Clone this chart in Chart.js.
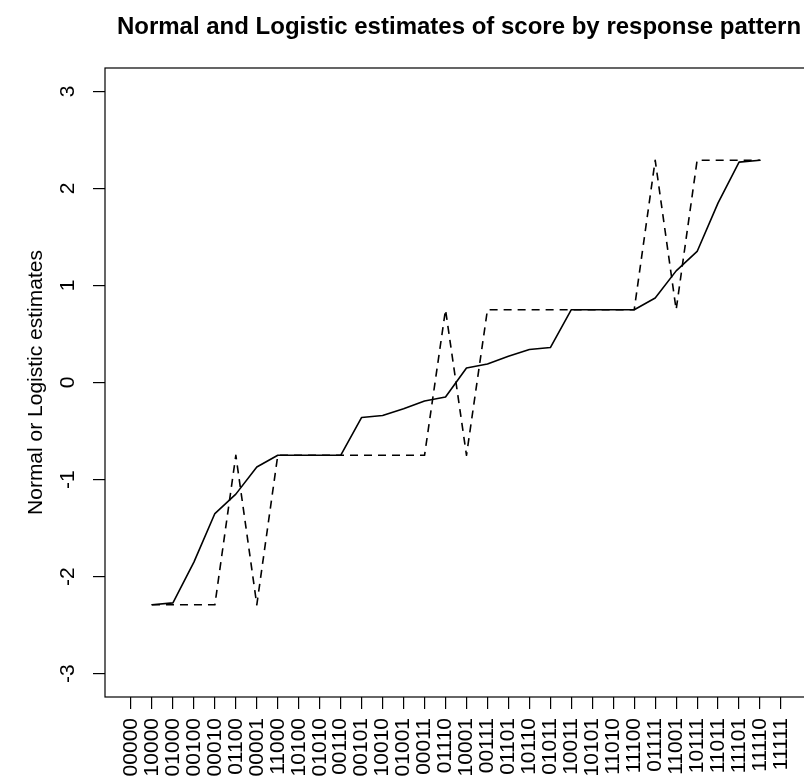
<!DOCTYPE html>
<html>
<head>
<meta charset="utf-8">
<title>Normal and Logistic estimates</title>
<script src="https://cdn.jsdelivr.net/npm/chart.js@4.4.0/dist/chart.umd.min.js"></script>
<style>
  html, body { margin: 0; padding: 0; background: #fff; overflow: hidden; }
  #wrap { width: 804px; height: 780px; overflow: hidden; position: relative; }
  #myChart { position: absolute; left: 0; top: 0; }
</style>
</head>
<body>
<div id="wrap"><canvas id="myChart" width="807" height="780"></canvas></div>
<script>
// response patterns, ordered by estimated score
var patterns = ['00000', '10000', '01000', '00100', '00010', '01100', '00001', '11000',
  '10100', '01010', '00110', '00101', '10010', '01001', '00011', '01110',
  '10001', '00111', '01101', '10110', '01011', '10011', '10101', '11010',
  '11100', '01111', '11001', '10111', '11011', '11101', '11110', '11111'];

// all-wrong and all-right patterns have no finite estimate
var normalEst = [null, -2.29, -2.27, -1.85, -1.35, -1.15, -0.87, -0.75,
  -0.75, -0.75, -0.75, -0.36, -0.34, -0.27, -0.19, -0.15,
  0.15, 0.19, 0.27, 0.34, 0.36, 0.75, 0.75, 0.75,
  0.75, 0.87, 1.15, 1.35, 1.85, 2.27, 2.29, null];

var logisticEst = [null, -2.29, -2.29, -2.29, -2.29, -0.75, -2.29, -0.75,
  -0.75, -0.75, -0.75, -0.75, -0.75, -0.75, -0.75, 0.75,
  -0.75, 0.75, 0.75, 0.75, 0.75, 0.75, 0.75, 0.75,
  0.75, 2.29, 0.75, 2.29, 2.29, 2.29, 2.29, null];

var yTicks = [-3, -2, -1, 0, 1, 2, 3];

var titleText = 'Normal and Logistic estimates of score by response pattern';
var yTitle = 'Normal or Logistic estimates';
var fontFamily = '"Liberation Sans", Arial, Helvetica, sans-serif';
var axisFontSize = 21;

function toPoints(arr) {
  return arr.map(function (v, i) { return { x: i, y: v }; });
}

// box round the plot, rotated y labels and the main title
var framePlugin = {
  id: 'frame',
  afterDraw: function (chart) {
    var ctx = chart.ctx;
    var area = chart.chartArea;
    var yScale = chart.scales.y;
    ctx.save();
    ctx.strokeStyle = '#000';
    ctx.lineWidth = 1.2;
    ctx.strokeRect(area.left, area.top, area.right - area.left, area.bottom - area.top);

    ctx.fillStyle = '#000';
    ctx.textAlign = 'center';
    ctx.textBaseline = 'middle';

    ctx.font = 'bold 24px ' + fontFamily;
    ctx.fillText(titleText, (area.left + area.right) / 2 + 3, 27);

    ctx.font = axisFontSize + 'px ' + fontFamily;
    yScale.ticks.forEach(function (t) {
      var py = yScale.getPixelForValue(t.value);
      ctx.save();
      ctx.translate(68, py);
      ctx.rotate(-Math.PI / 2);
      ctx.fillText(String(t.value), 0, 0);
      ctx.restore();
    });

    ctx.translate(36, (area.top + area.bottom) / 2);
    ctx.rotate(-Math.PI / 2);
    ctx.fillText(yTitle, 0, 0);
    ctx.restore();
  }
};

var ctx = document.getElementById('myChart');
var myChart = new Chart(ctx, {
  type: 'line',
  data: {
    datasets: [{
      label: 'Normal',
      data: toPoints(normalEst),
      borderColor: '#000',
      borderWidth: 1.6,
      borderJoinStyle: 'round',
      borderCapStyle: 'round',
      pointRadius: 0,
      tension: 0
    }, {
      label: 'Logistic',
      data: toPoints(logisticEst),
      borderColor: '#000',
      borderWidth: 1.6,
      borderDash: [8, 6],
      borderJoinStyle: 'round',
      borderCapStyle: 'butt',
      pointRadius: 0,
      tension: 0
    }]
  },
  options: {
    responsive: false,
    animation: false,
    layout: { padding: { top: 68, left: 0, right: 0, bottom: 0 } },
    plugins: {
      legend: { display: false },
      tooltip: { enabled: false },
      title: { display: false }
    },
    scales: {
      x: {
        type: 'linear',
        min: -1.24,
        max: 32.24,
        afterBuildTicks: function (scale) {
          scale.ticks = patterns.map(function (p, i) { return { value: i }; });
        },
        afterFit: function (scale) {
          scale.height = 83;
          scale.paddingLeft = 0;
          scale.paddingRight = 0;
        },
        ticks: {
          autoSkip: false,
          minRotation: 90,
          maxRotation: 90,
          padding: 9,
          color: '#000',
          font: { family: fontFamily, size: axisFontSize },
          callback: function (v) { return patterns[v]; }
        },
        grid: {
          drawOnChartArea: false,
          drawTicks: true,
          tickLength: 12,
          color: '#000',
          lineWidth: 1.2
        },
        border: { display: false }
      },
      y: {
        min: -3.24,
        max: 3.24,
        afterBuildTicks: function (scale) {
          scale.ticks = yTicks.map(function (v) { return { value: v }; });
        },
        afterFit: function (scale) {
          scale.width = 105;
          scale.paddingTop = 0;
          scale.paddingBottom = 0;
        },
        ticks: { display: false },
        grid: {
          drawOnChartArea: false,
          drawTicks: true,
          tickLength: 12,
          color: '#000',
          lineWidth: 1.2
        },
        border: { display: false }
      }
    }
  },
  plugins: [framePlugin]
});
</script>
</body>
</html>
